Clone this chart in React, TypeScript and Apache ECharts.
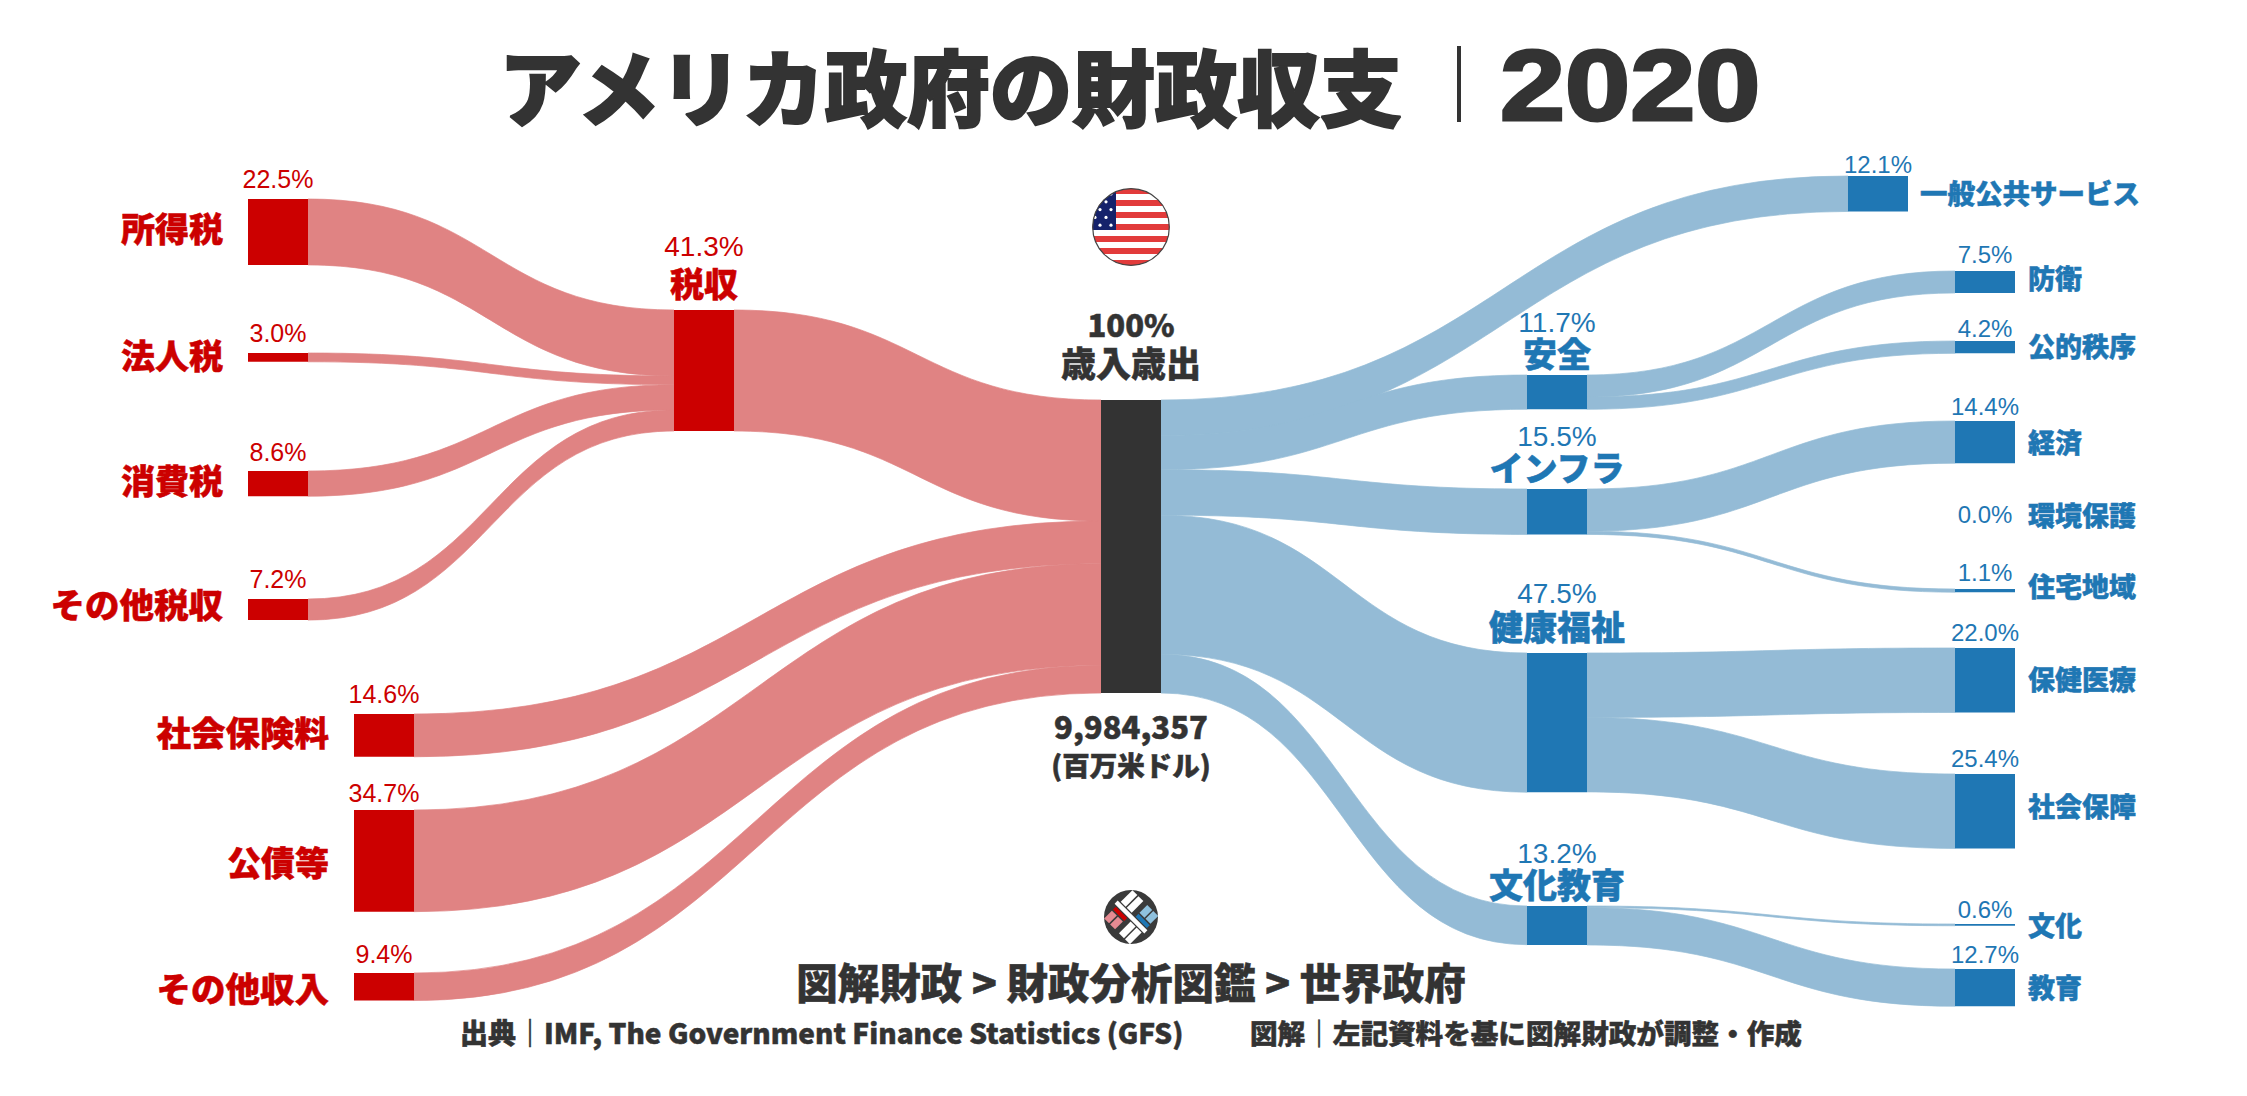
import React, { useEffect, useRef } from "react";
import * as echarts from "echarts";

// ---------- data ----------
const revenueLeaves = ["所得税", "法人税", "消費税", "その他税収"];
const revenueLeafValues = [22.5, 3.0, 8.6, 7.2];
const revenueOther = ["社会保険料", "公債等", "その他収入"];
const revenueOtherValues = [14.6, 34.7, 9.4];
const taxName = "税収";
const taxValue = 41.3;
const centerName = "歳入歳出";
const spendingGroups = ["安全", "インフラ", "健康福祉", "文化教育"];
const spendingGroupValues = [11.7, 15.5, 47.5, 13.2];
const spendingDirect = "一般公共サービス";
const spendingDirectValue = 12.1;
const spendingLeaves = [
  ["防衛", "公的秩序"],
  ["経済", "環境保護", "住宅地域"],
  ["保健医療", "社会保障"],
  ["文化", "教育"],
];
const spendingLeafValues = [
  [7.5, 4.2],
  [14.4, 0.0, 1.1],
  [22.0, 25.4],
  [0.6, 12.7],
];

// ---------- layout & style ----------
const W = 2247;
const H = 1096;
const PX_PER_UNIT = 2.93;
const RED = "#cc0000";
const BLUE = "#1f77b4";
const DARK = "#333333";
const RED_LINK = "#e08383";
const BLUE_LINK = "#94bbd6";
const JP = '"Noto Sans CJK JP"';
const LATIN = '"Liberation Sans"';
const NODE_W = 60;

const nodePos: Record<string, [number, number]> = {
  所得税: [248, 199],
  法人税: [248, 353],
  消費税: [248, 471],
  その他税収: [248, 599],
  社会保険料: [354, 714],
  公債等: [354, 810],
  その他収入: [354, 973],
  税収: [674, 310],
  歳入歳出: [1101, 400],
  一般公共サービス: [1848, 176],
  安全: [1527, 375],
  インフラ: [1527, 489],
  健康福祉: [1527, 653],
  文化教育: [1527, 906],
  防衛: [1955, 271],
  公的秩序: [1955, 341],
  経済: [1955, 421],
  環境保護: [1955, 530],
  住宅地域: [1955, 589],
  保健医療: [1955, 648],
  社会保障: [1955, 774],
  文化: [1955, 924],
  教育: [1955, 969],
};
// distance of the percent label above its node
const labelGap: Record<string, number> = {
  税収: 50, 安全: 39, インフラ: 39, 健康福祉: 46, 文化教育: 39,
  所得税: 8, 法人税: 8, 消費税: 7, その他税収: 8, 社会保険料: 8, 公債等: 5, その他収入: 7,
  一般公共サービス: 0, 防衛: 5, 公的秩序: 1, 経済: 3, 環境保護: 4, 住宅地域: 5,
  保健医療: 4, 社会保障: 4, 文化: 3, 教育: 3,
};
const largePercent = ["税収", ...spendingGroups];

// names: [text, x, y, align, size, colour]
type Lbl = [string, number, number, string, number, string];
const nameLabels: Lbl[] = [
  ["所得税", 223, 227, "right", 34, RED],
  ["法人税", 223, 354, "right", 34, RED],
  ["消費税", 223, 479, "right", 34, RED],
  ["その他税収", 223, 603, "right", 34.5, RED],
  ["社会保険料", 329, 731, "right", 34.5, RED],
  ["公債等", 329, 861, "right", 34, RED],
  ["その他収入", 329, 987, "right", 34.5, RED],
  ["税収", 704, 282, "center", 34, RED],
  ["安全", 1557, 352, "center", 34, BLUE],
  ["インフラ", 1557, 466, "center", 34, BLUE],
  ["健康福祉", 1557, 625, "center", 34, BLUE],
  ["文化教育", 1557, 883, "center", 34, BLUE],
  ["一般公共サービス", 1920, 192, "left", 27.5, BLUE],
  ["防衛", 2028, 277, "left", 27, BLUE],
  ["公的秩序", 2028, 345, "left", 27, BLUE],
  ["経済", 2028, 441, "left", 27, BLUE],
  ["環境保護", 2028, 514, "left", 27, BLUE],
  ["住宅地域", 2028, 585, "left", 27, BLUE],
  ["保健医療", 2028, 678, "left", 27, BLUE],
  ["社会保障", 2028, 805, "left", 27, BLUE],
  ["文化", 2028, 924, "left", 27, BLUE],
  ["教育", 2028, 986, "left", 27, BLUE],
];
const captionLabels: Lbl[] = [
  ["100%", 1131, 323, "center", 31, DARK],
  ["歳入歳出", 1131, 361, "center", 35, DARK],
  ["9,984,357", 1131, 725, "center", 31, DARK],
  ["(百万米ドル)", 1131, 764, "center", 27.5, DARK],
  ["図解財政 > 財政分析図鑑 > 世界政府", 1131, 981, "center", 41.5, DARK],
  ["出典｜IMF, The Government Finance Statistics (GFS)", 460, 1032, "left", 28, DARK],
  ["図解｜左記資料を基に図解財政が調整・作成", 1250, 1032, "left", 27.6, DARK],
];

function flagUri() {
  const s = 78;
  let stripes = "";
  for (let i = 0; i < 13; i += 2) stripes += `<rect x="0" y="${i * 6}" width="${s}" height="6" fill="#e23b3b"/>`;
  let stars = "";
  for (let r = 0; r < 5; r++) {
    const cols = r % 2 === 0 ? [19, 8] : [14, 3];
    cols.forEach((c) => {
      stars += `<circle cx="${c}" cy="${6 + r * 7.8}" r="1.6" fill="#fff"/>`;
    });
  }
  const svg = `<svg xmlns="http://www.w3.org/2000/svg" width="${s}" height="${s}" viewBox="0 0 ${s} ${s}"><defs><clipPath id="c"><circle cx="39" cy="39" r="38.5"/></clipPath></defs><g clip-path="url(#c)"><rect width="${s}" height="${s}" fill="#fff"/>${stripes}<rect width="24" height="42" fill="#15226b"/>${stars}</g><circle cx="39" cy="39" r="38.3" fill="none" stroke="#444" stroke-width="1.2"/></svg>`;
  return "data:image/svg+xml;charset=utf-8," + encodeURIComponent(svg);
}

function logoUri() {
  const r = (x: number, y: number, w: number, h: number, f: string) =>
    `<rect x="${x}" y="${y}" width="${w}" height="${h}" fill="${f}"/>`;
  const svg = `<svg xmlns="http://www.w3.org/2000/svg" width="54" height="54" viewBox="-27 -27 54 54"><circle r="27" fill="#3a3a3a"/><g transform="rotate(45)">${
    r(-21, -2.2, 42, 4.4, "#fff") +
    r(-18, -20, 7, 16.5, "#fff") + r(-9.5, -20, 7, 16.5, "#fff") +
    r(3, -7.5, 16, 4, "#1f77b4") + r(3, -20, 7, 11, "#8fc1de") + r(11.5, -20, 7, 11, "#8fc1de") +
    r(-18, 3.5, 16, 4, "#cc0000") + r(-18, 9, 7, 11, "#e58a92") + r(-9.5, 9, 7, 11, "#e58a92") +
    r(3, 3.5, 7, 16.5, "#fff") + r(11.5, 3.5, 7, 16.5, "#fff")
  }</g></svg>`;
  return "data:image/svg+xml;charset=utf-8," + encodeURIComponent(svg);
}

function buildSeries() {
  const percent: Record<string, string> = {};
  const links: any[] = [];
  const linkOf = (source: string, target: string, value: number, color: string) =>
    links.push({
      source,
      target,
      value,
      lineStyle: value > 0
        ? { color, opacity: 1, borderColor: color, borderWidth: 0.7 }
        : { color: "none", opacity: 0, borderWidth: 0 },
    });

  revenueLeaves.forEach((n, i) => {
    percent[n] = revenueLeafValues[i].toFixed(1);
    linkOf(n, taxName, revenueLeafValues[i], RED_LINK);
  });
  percent[taxName] = taxValue.toFixed(1);
  linkOf(taxName, centerName, taxValue, RED_LINK);
  revenueOther.forEach((n, i) => {
    percent[n] = revenueOtherValues[i].toFixed(1);
    linkOf(n, centerName, revenueOtherValues[i], RED_LINK);
  });
  percent[spendingDirect] = spendingDirectValue.toFixed(1);
  linkOf(centerName, spendingDirect, spendingDirectValue, BLUE_LINK);
  spendingGroups.forEach((g, i) => {
    percent[g] = spendingGroupValues[i].toFixed(1);
    linkOf(centerName, g, spendingGroupValues[i], BLUE_LINK);
    spendingLeaves[i].forEach((n, j) => {
      percent[n] = spendingLeafValues[i][j].toFixed(1);
      linkOf(g, n, spendingLeafValues[i][j], BLUE_LINK);
    });
  });

  const order = [
    ...revenueLeaves,
    ...revenueOther,
    taxName,
    centerName,
    spendingDirect,
    ...spendingGroups,
    ...spendingLeaves.flat(),
  ];
  const nodes = order.map((name) => {
    const isRed = revenueLeaves.includes(name) || revenueOther.includes(name) || name === taxName;
    const isCenter = name === centerName;
    const big = largePercent.includes(name);
    const leftSide = revenueLeaves.includes(name) || revenueOther.includes(name);
    return {
      name,
      localX: nodePos[name][0] / W,
      localY: nodePos[name][1] / H,
      itemStyle: { color: isCenter ? DARK : isRed ? RED : BLUE, borderWidth: 0, opacity: 1 },
      label: {
        show: !isCenter,
        position: "top",
        distance: labelGap[name] ?? 4,
        color: isRed ? RED : BLUE,
        fontFamily: LATIN,
        fontSize: big ? 28 : leftSide ? 25 : 24,
        formatter: () => percent[name] + "%",
      },
    };
  });
  const leafCount = 1 + spendingLeaves.flat().length;
  return {
    type: "sankey",
    left: 0,
    top: 0,
    width: W,
    height: H,
    nodeWidth: NODE_W,
    nodeGap: (H - 100 * PX_PER_UNIT) / (leafCount - 1),
    layoutIterations: 0,
    draggable: false,
    silent: true,
    emphasis: { disabled: true },
    lineStyle: { curveness: 0.5, opacity: 1 },
    data: nodes,
    links,
  };
}

function textEl([text, x, y, align, size, color]: Lbl) {
  return {
    type: "text",
    silent: true,
    style: {
      text,
      x,
      y,
      fill: color,
      stroke: color,
      lineWidth: 0.5,
      fontFamily: JP,
      fontWeight: 900,
      fontSize: size,
      textAlign: align,
      textVerticalAlign: "middle",
    },
  };
}

export default function App() {
  const ref = useRef<HTMLDivElement>(null);
  useEffect(() => {
    document.body.style.margin = "0";
    const chart = echarts.init(ref.current!, undefined, { renderer: "svg" });
    chart.setOption({
      animation: false,
      backgroundColor: "#ffffff",
      series: [buildSeries()],
      graphic: [
        {
          type: "text",
          silent: true,
          style: {
            text: "アメリカ政府の財政収支",
            x: 499,
            y: 84,
            fill: DARK,
            stroke: DARK,
            lineWidth: 2,
            fontFamily: JP,
            fontWeight: 900,
            fontSize: 82.5,
            textAlign: "left",
            textVerticalAlign: "middle",
          },
        },
        {
          type: "rect",
          silent: true,
          shape: { x: 1457, y: 46, width: 4, height: 76 },
          style: { fill: DARK },
        },
        {
          type: "text",
          silent: true,
          x: 1500,
          y: 85,
          scaleX: 1.17,
          style: {
            text: "2020",
            x: 0,
            y: 0,
            fill: DARK,
            stroke: DARK,
            lineWidth: 3,
            fontFamily: LATIN,
            fontWeight: 700,
            fontSize: 100,
            textAlign: "left",
            textVerticalAlign: "middle",
          },
        },
        ...nameLabels.map(textEl),
        ...captionLabels.map(textEl),
        { type: "image", silent: true, style: { image: flagUri(), x: 1092, y: 188, width: 78, height: 78 } },
        { type: "image", silent: true, style: { image: logoUri(), x: 1104, y: 890, width: 54, height: 54 } },
      ],
    });
    return () => chart.dispose();
  }, []);
  return <div ref={ref} style={{ width: W, height: H }} />;
}
